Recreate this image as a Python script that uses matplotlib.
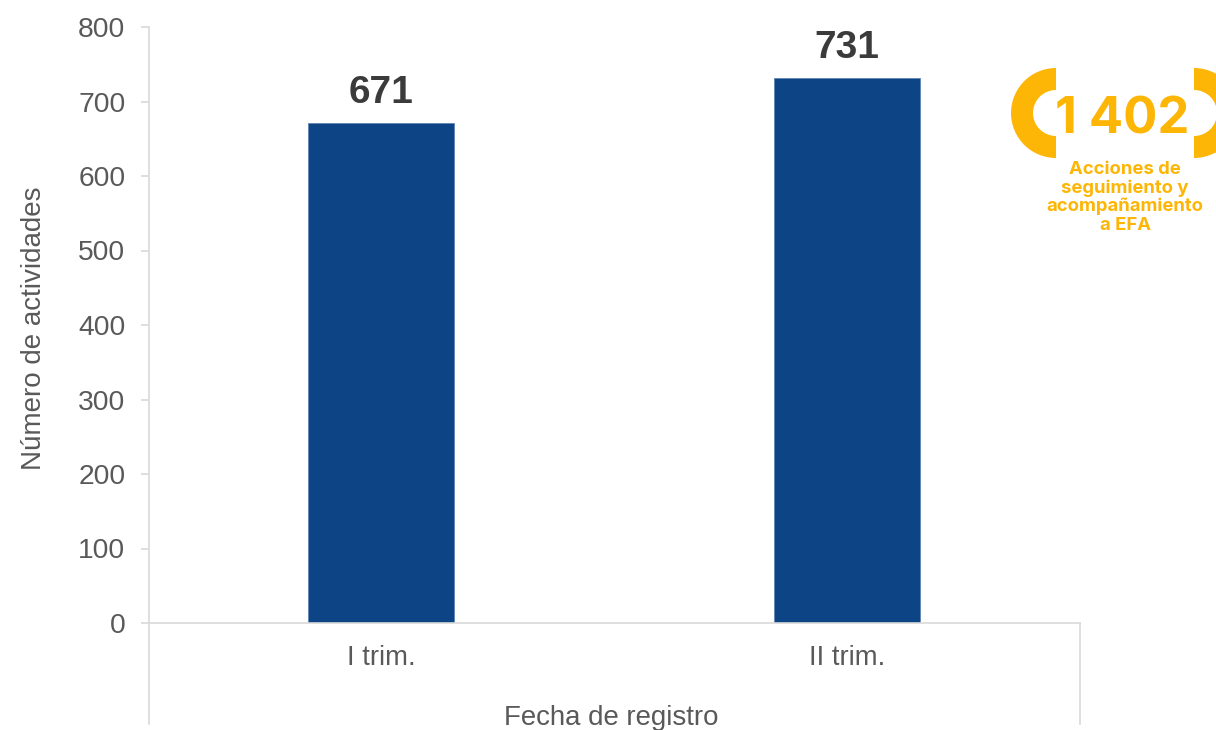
#!/usr/bin/env python
import matplotlib as mpl
mpl.use('Agg')
import matplotlib.pyplot as plt
from matplotlib.patches import Wedge

plt.rcParams['font.family'] = ['Liberation Sans', 'DejaVu Sans']

W, H = 1216, 730

categories = ["I trim.", "II trim."]
values = [671, 731]
yticks = [0, 100, 200, 300, 400, 500, 600, 700, 800]
badge_total = "1 402"
badge_lines = ["Acciones de", "seguimiento y", "acompañamiento", "a EFA"]

blue = "#0c4486"
grey = "#595959"
axis_grey = "#d9d9d9"
gold = "#fdb606"

fig = plt.figure(figsize=(W / 100, H / 100), dpi=100)
ax = fig.add_axes([149 / W, (H - 623) / H, 931 / W, 596 / H])

bars = ax.bar(range(len(values)), values, width=0.3134, color=blue, edgecolor="#5f86b5", linewidth=0.6)
ax.set_xlim(-0.498, 1.5)
ax.set_ylim(0, 800)
ax.set_yticks(yticks)
ax.set_xticks(range(len(categories)))
ax.set_xticklabels(categories)
ax.tick_params(axis='y', labelsize=20.3, labelcolor=grey, color=axis_grey, length=6, width=1.2, pad=11)
ax.tick_params(axis='x', labelsize=19.8, labelcolor=grey, length=0, pad=15.5)

for s in ["top", "right"]:
    ax.spines[s].set_visible(False)
for s in ["left", "bottom"]:
    ax.spines[s].set_color(axis_grey)
    ax.spines[s].set_linewidth(1.2)

for x, v in zip(range(len(values)), values):
    ax.annotate(str(v), (x, v), xytext=(0, 9), textcoords="offset points", ha="center", va="bottom",
                fontsize=28, fontweight="bold", color="#3b3b3b")

ax.set_ylabel("Número de actividades", fontsize=20, color=grey)
ax.yaxis.set_label_coords(-0.1093, 0.495)

# overlay in pixel coords for the stuff outside the axes
ov = fig.add_axes([0, 0, 1, 1], facecolor="none")
ov.set_xlim(0, W)
ov.set_ylim(H, 0)
ov.axis("off")

ov.plot([149, 149], [623, 724], color=axis_grey, lw=1.2)
ov.plot([1080, 1080], [623, 724], color=axis_grey, lw=1.2)
ov.text(611, 718, "Fecha de registro", fontsize=19.9, color=grey, ha="center", va="center")

# ylim is inverted here, so the angles run the other way round
ov.add_patch(Wedge((1056, 113), 45, 90, 270, width=22, color=gold, lw=0))
ov.add_patch(Wedge((1194, 113), 45, -90, 90, width=22, color=gold, lw=0))
ov.text(1122, 120, badge_total, fontsize=36.5, fontweight="bold", family=["Inter", "DejaVu Sans"],
        color=gold, ha="center", va="center")
for y, line in zip([169, 188, 206, 225], badge_lines):
    ov.text(1125, y, line, fontsize=13.3, fontweight="bold", family=["Inter", "DejaVu Sans"],
            color=gold, ha="center", va="center")

fig.savefig("out.png", dpi=100)
